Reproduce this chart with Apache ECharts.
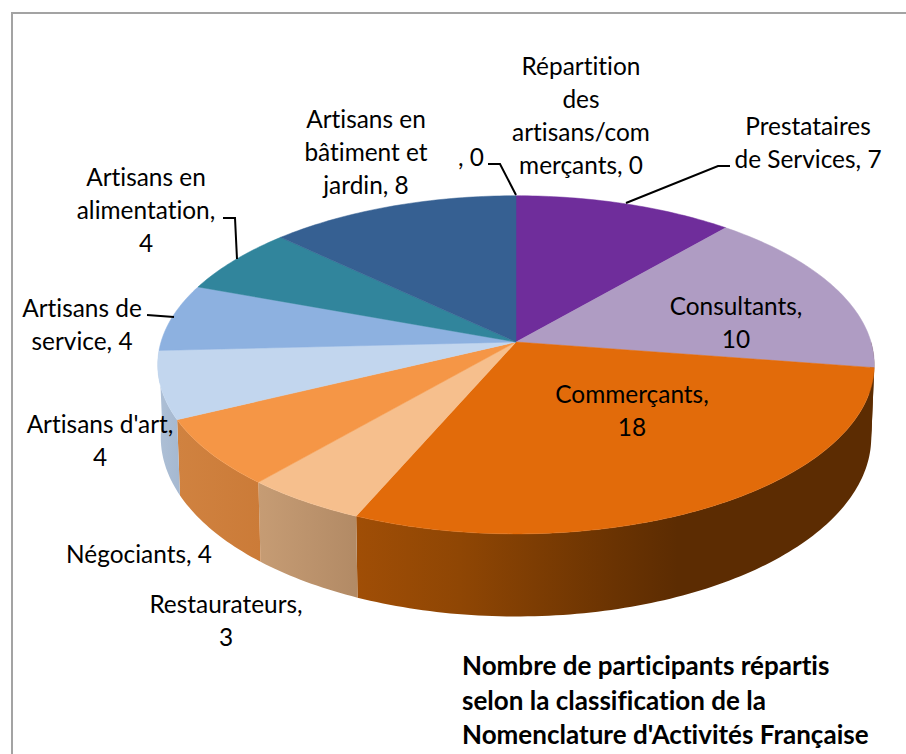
<!DOCTYPE html>
<html lang="fr">
<head>
<meta charset="utf-8">
<title>Nomenclature d'Activités Française</title>
<script src="https://cdn.jsdelivr.net/npm/echarts@6/dist/echarts.min.js"></script>
<style>
  html, body { margin: 0; padding: 0; background: #fff; }
  #chart { width: 906px; height: 754px; }
  /* Calibri has no ti/fi joins, Lato does */
  #chart text, #chart tspan {
    font-variant-ligatures: none !important;
    font-feature-settings: "liga" 0, "clig" 0, "dlig" 0 !important;
    letter-spacing: 0.01px;
  }
</style>
</head>
<body>
<div id="chart"></div>
<script>
const categories = [
  "Répartition des artisans/commerçants", "Prestataires de Services", "Consultants", "Commerçants",
  "Restaurateurs", "Négociants", "Artisans d'art", "Artisans de service",
  "Artisans en alimentation", "Artisans en bâtiment et jardin", ""
];
const values = [0, 7, 10, 18, 3, 4, 4, 4, 4, 8, 0];
const topColors = [
  "#6f2d9b", "#6f2d9b", "#af9cc3", "#e26b0a", "#f6bf8d", "#f59646",
  "#c2d6ee", "#8db1e0", "#31859c", "#366092", "#366092"
];
// wall shading, left to right
const wallColors = [
  null, null, ["#5c2c02", "#5c2c02"], [[0, "#a04e06"], [0.2, "#8f4604"], [0.5, "#6a3302"], [0.62, "#5c2c02"], [1, "#5c2c02"]],
  ["#c69c74", "#b28a65"], ["#d08240", "#cb7b38"], ["#aec0d6", "#a5b8d0"], null, null, null, null
];
const labelTexts = [
  "Répartition\ndes\nartisans/com\nmerçants, 0", "Prestataires\nde Services, 7", "Consultants,\n10", "Commerçants,\n18",
  "Restaurateurs,\n3", "Négociants, 4", "Artisans d'art,\n4", "Artisans de\nservice, 4",
  "Artisans en\nalimentation,\n4", "Artisans en\nbâtiment et\njardin, 8", ", 0"
];
const titleText = "Nombre de participants répartis\nselon la classification de la\nNomenclature d'Activités Française";

// label anchors, same order as categories
const labelAnchors = [
  [581, 115], [808, 142], [736, 322], [632, 410], [226, 620], [139, 553],
  [100, 440], [82, 324], [146, 209], [366, 151], [471, 156]
];
const leaderLines = [
  [[516, 195], [500, 164], [488, 164]],
  [[626, 203], [718, 166], [730, 166]],
  [[237, 259], [235, 218], [223, 218]],
  [[174, 317], [147, 315]]
];

// pie projection
const CX = 516, CY = 342, PERSP = 0.135;
const TOP_RX = 355, TOP_RY = 166;
const WALL_RX = 352, WALL_RY = 176, WALL_OFF = 71;
const LABEL_FONT = "Lato, 'Open Sans', sans-serif";

const total = values.reduce((a, b) => a + b, 0);
const startAt = [];
values.reduce((sum, v, i) => { startAt[i] = sum; return sum + v; }, 0);

function project(deg, rx, ry, cy) {
  const a = deg * Math.PI / 180;
  const u = Math.sin(a), v = Math.cos(a), d = 1 + PERSP * v;
  return [CX + rx * u / d, cy - ry * v / d];
}
function arc(from, to, rx, ry, cy) {
  const pts = [];
  const n = Math.max(2, Math.ceil(Math.abs(to - from)));
  for (let i = 0; i <= n; i++) pts.push(project(from + (to - from) * i / n, rx, ry, cy));
  return pts;
}
function sliceRange(i) {
  return [startAt[i] / total * 360, (startAt[i] + values[i]) / total * 360];
}
function wallFill(stops) {
  const colorStops = Array.isArray(stops[0])
    ? stops.map(s => ({ offset: s[0], color: s[1] }))
    : [{ offset: 0, color: stops[0] }, { offset: 1, color: stops[1] }];
  return { type: "linear", x: 0, y: 0, x2: 1, y2: 0, colorStops };
}

function renderWall(params, api) {
  const i = params.dataIndex;
  if (!wallColors[i] || !api.value(0)) return;
  const r = sliceRange(i);
  const from = Math.max(r[0], 90), to = Math.min(r[1], 270);
  if (to <= from) return;
  const points = arc(from, to, TOP_RX, TOP_RY, CY)
    .concat(arc(to, from, WALL_RX, WALL_RY, CY + WALL_OFF));
  return { type: "polygon", shape: { points }, style: { fill: wallFill(wallColors[i]) } };
}
function renderTop(params, api) {
  const i = params.dataIndex;
  if (!api.value(0)) return;
  const r = sliceRange(i);
  const points = [[CX, CY]].concat(arc(r[0], r[1], TOP_RX, TOP_RY, CY));
  return {
    type: "polygon",
    shape: { points },
    style: { fill: topColors[i], stroke: topColors[i], lineWidth: 0.5 }
  };
}

const graphics = [
  {
    type: "polyline",
    shape: { points: [[12, 754], [12, 13], [906, 13]] },
    style: { fill: null, stroke: "#a3a3a3", lineWidth: 2 },
    z: 1
  }
];
leaderLines.forEach(points => {
  graphics.push({
    type: "polyline",
    shape: { points },
    style: { fill: null, stroke: "#000", lineWidth: 2 },
    z: 5
  });
});
labelTexts.forEach((text, i) => {
  graphics.push({
    type: "text",
    x: labelAnchors[i][0],
    y: labelAnchors[i][1],
    z: 6,
    style: {
      text,
      fill: "#000",
      font: "24.4px " + LABEL_FONT,
      lineHeight: 33,
      align: "center",
      verticalAlign: "middle"
    }
  });
});
graphics.push({
  type: "text",
  x: 462,
  y: 699.5,
  z: 6,
  style: {
    text: titleText,
    fill: "#000",
    font: "bold 26px " + LABEL_FONT,
    lineHeight: 34.5,
    align: "left",
    verticalAlign: "middle"
  }
});

const chart = echarts.init(document.getElementById("chart"), null, { renderer: "svg" });
const rows = values.map((v, i) => ({ name: categories[i], value: [v] }));
chart.setOption({
  animation: false,
  backgroundColor: "#fff",
  tooltip: { show: false },
  graphic: graphics,
  series: [
    { type: "custom", coordinateSystem: "none", silent: true, z: 2, renderItem: renderWall, data: rows },
    { type: "custom", coordinateSystem: "none", silent: true, z: 3, renderItem: renderTop, data: rows }
  ]
});
</script>
</body>
</html>
